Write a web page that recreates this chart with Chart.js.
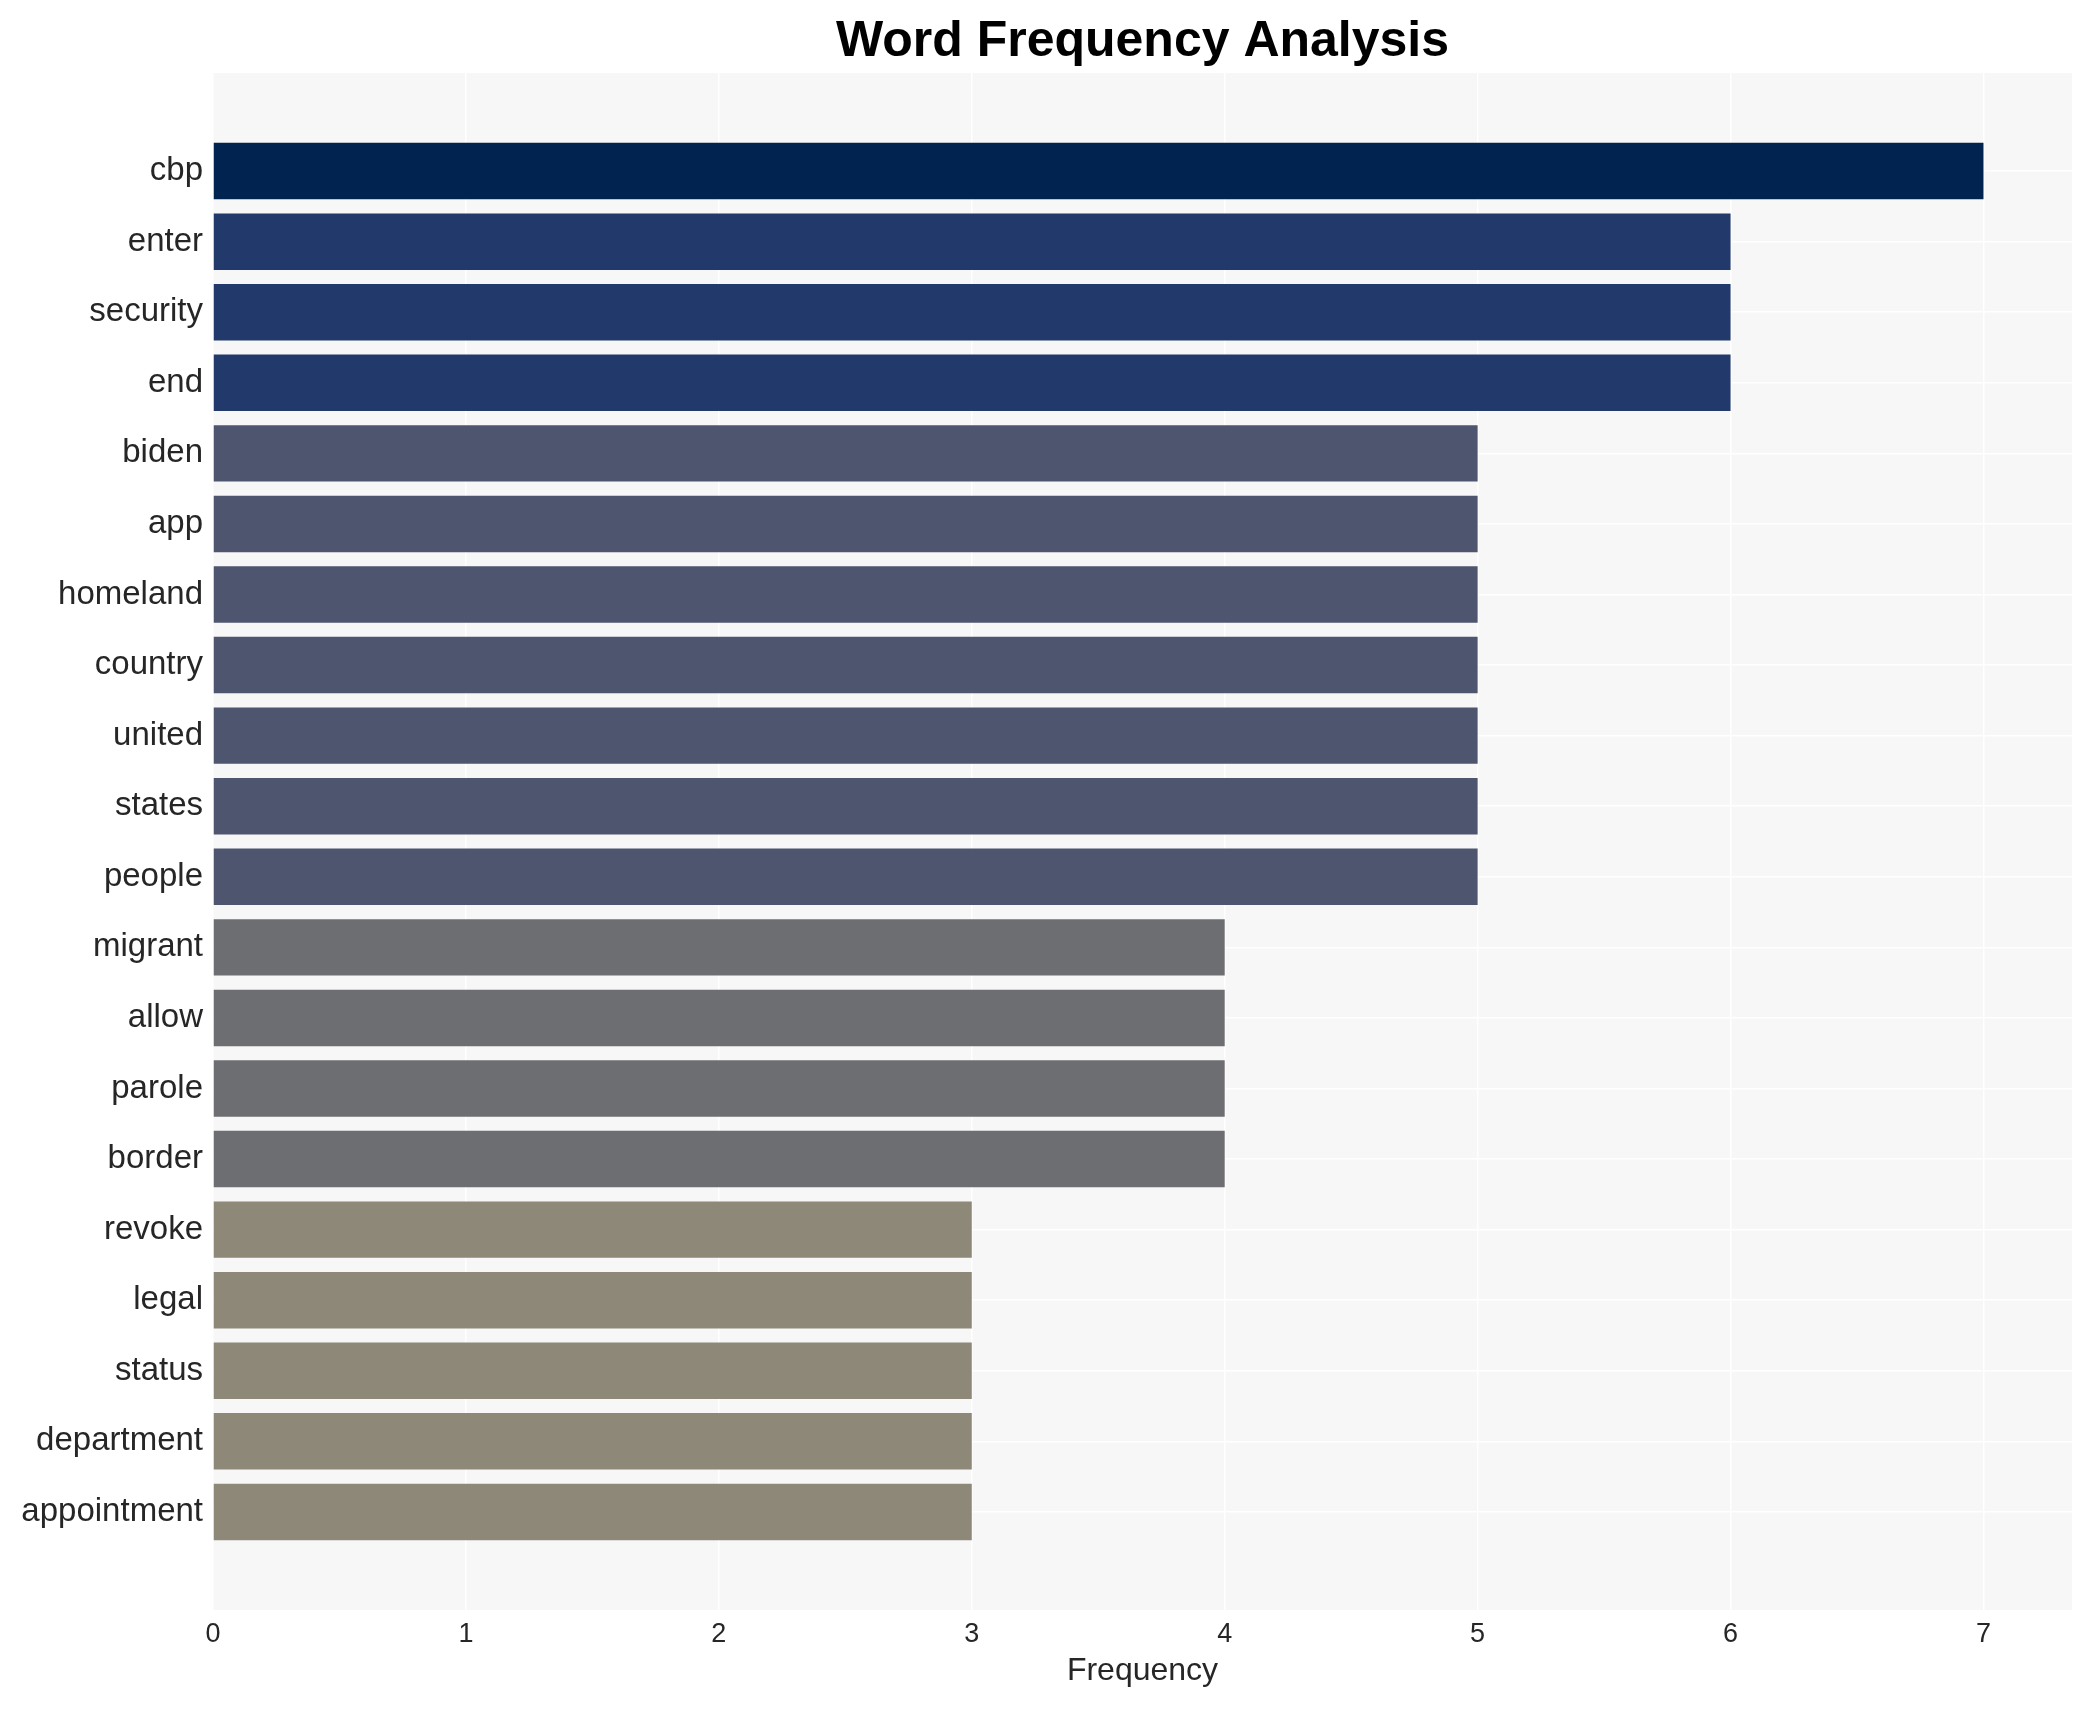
<!DOCTYPE html>
<html>
<head>
<meta charset="utf-8">
<script src="https://cdn.jsdelivr.net/npm/chart.js@4/dist/chart.umd.min.js"></script>
<style>
  html, body { margin: 0; padding: 0; background: #ffffff; }
  #wrap { width: 2093px; height: 1710px; }
</style>
</head>
<body>
<div id="wrap"><canvas id="freqChart" width="2093" height="1710"></canvas></div>
<script>
// Data
const words = ['cbp', 'enter', 'security', 'end', 'biden', 'app', 'homeland', 'country',
    'united', 'states', 'people', 'migrant', 'allow', 'parole', 'border', 'revoke',
    'legal', 'status', 'department', 'appointment'];
const frequencies = [7, 6, 6, 6, 5, 5, 5, 5, 5, 5, 5, 4, 4, 4, 4, 3, 3, 3, 3, 3];
const xTicks = [0, 1, 2, 3, 4, 5, 6, 7];

// Colour per frequency level
const levelColors = { 7: '#00234f', 6: '#213a6b', 5: '#4e556e', 4: '#6d6e72', 3: '#8d8877' };

const FONT = "'Liberation Sans', Arial, Helvetica, sans-serif";

// Plot background
const plotBg = {
    id: 'plotBg',
    beforeDraw(chart) {
        const { ctx, chartArea: a } = chart;
        ctx.save();
        ctx.fillStyle = '#f7f7f7';
        ctx.fillRect(a.left, a.top, a.right - a.left, a.bottom - a.top);
        ctx.restore();
    }
};

const ctx = document.getElementById('freqChart').getContext('2d');

new Chart(ctx, {
    type: 'bar',
    data: {
        datasets: [{
            data: words.map((w, i) => ({ x: frequencies[i], y: i })),
            backgroundColor: frequencies.map(v => levelColors[v]),
            borderWidth: 0,
            barPercentage: 0.8,
            categoryPercentage: 1.0
        }]
    },
    plugins: [plotBg],
    options: {
        indexAxis: 'y',
        responsive: false,
        animation: false,
        layout: { padding: { left: 0, right: 21, top: 0, bottom: 0 } },
        plugins: {
            legend: { display: false },
            tooltip: { enabled: false },
            title: {
                display: true,
                fullSize: false,
                text: 'Word Frequency Analysis',
                color: '#000000',
                font: { family: FONT, size: 50, weight: 'bold' },
                padding: { top: 12, bottom: 1 }
            }
        },
        scales: {
            x: {
                type: 'linear',
                min: 0,
                max: 7.35,
                afterBuildTicks: axis => { axis.ticks = xTicks.map(v => ({ value: v })); },
                afterFit: axis => { axis.height = 100; },
                grid: { color: '#ffffff', lineWidth: 1.5, drawTicks: false },
                border: { display: false },
                ticks: {
                    color: '#262626',
                    font: { family: FONT, size: 27 },
                    padding: 8,
                    callback: v => String(v)
                },
                title: {
                    display: true,
                    text: 'Frequency',
                    color: '#262626',
                    font: { family: FONT, size: 32 },
                    padding: { top: 2, bottom: 20 }
                }
            },
            y: {
                type: 'linear',
                min: -1.39,
                max: 20.39,
                reverse: true,
                offset: false,
                afterBuildTicks: axis => { axis.ticks = words.map((w, i) => ({ value: i })); },
                afterFit: axis => { axis.width = 213; },
                grid: { color: '#ffffff', lineWidth: 1.5, drawTicks: false, offset: false },
                border: { display: false },
                ticks: {
                    color: '#262626',
                    font: { family: FONT, size: 33 },
                    padding: 10,
                    autoSkip: false,
                    callback: v => words[v] ?? ''
                }
            }
        }
    }
});
</script>
</body>
</html>
